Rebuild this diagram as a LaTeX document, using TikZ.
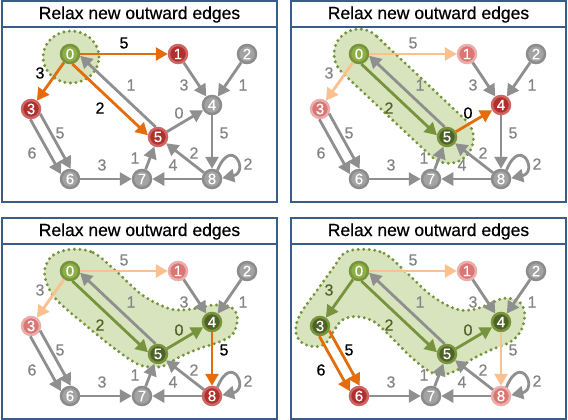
\documentclass[tikz,border=0pt]{standalone}
\usepackage{fontspec}
\setmainfont{Liberation Sans}[FakeBold=0.5]
\usetikzlibrary{arrows.meta}

\definecolor{frameblue}{HTML}{385D8A}
\definecolor{edgegray}{HTML}{8F8F8F}
\definecolor{labelgray}{HTML}{858585}
\definecolor{nodegray}{HTML}{A3A3A3}
\definecolor{nodegrayrim}{HTML}{8C8C8C}
\definecolor{hotorange}{HTML}{E46C0A}
\definecolor{paleorange}{HTML}{FAC090}
\definecolor{treegreen}{HTML}{77933C}
\definecolor{darkgreen}{HTML}{4F6228}
\definecolor{lightgreen}{HTML}{8DB045}
\definecolor{zonefill}{HTML}{D7E4BD}
\definecolor{redfill}{HTML}{B0302E}
\definecolor{redrim}{HTML}{CF6462}
\definecolor{pinkfill}{HTML}{DA7674}
\definecolor{pinkrim}{HTML}{EBAEAC}

\tikzset{
  rim/.style={draw=frameblue, line width=1.4pt},
  headline/.style={font=\fontsize{17.5}{18}\selectfont, inner sep=0pt},
  vtx/.style={circle, minimum size=18pt, inner sep=0pt, line width=2.5pt,
    draw=nodegrayrim, fill=nodegray, text=white, font=\fontsize{15}{15}\selectfont},
  vred/.style={draw=redrim, fill=redfill},
  vpink/.style={draw=pinkrim, fill=pinkfill},
  vstart/.style={draw=treegreen, fill=lightgreen},
  vdone/.style={draw=treegreen, fill=darkgreen},
  link/.style={line width=2.8pt, draw=edgegray, -{Triangle[length=12pt,width=13pt]}},
  ahot/.style={draw=hotorange},
  apale/.style={draw=paleorange},
  atree/.style={draw=treegreen},
  wt/.style={text=labelgray, font=\fontsize{16}{16}\selectfont, inner sep=0pt},
  whot/.style={text=black},
  wtree/.style={text=darkgreen},
  zone/.style={fill=zonefill, draw=treegreen, line width=3.3pt,
    dash pattern=on 0pt off 5.5pt, line cap=round},
  % per-panel hooks, plain by default
  v0/.style={}, v1/.style={}, v2/.style={}, v3/.style={}, v4/.style={},
  v5/.style={}, v6/.style={}, v7/.style={}, v8/.style={},
  e01/.style={}, e03/.style={}, e05/.style={}, e50/.style={}, e14/.style={},
  e24/.style={}, e54/.style={}, e48/.style={}, e85/.style={}, e87/.style={},
  e88/.style={}, e75/.style={}, e36a/.style={}, e36b/.style={}, e67/.style={},
  t01/.style={}, t03/.style={}, t05/.style={}, t50/.style={}, t14/.style={},
  t24/.style={}, t54/.style={}, t48/.style={}, t85/.style={}, t87/.style={},
  t88/.style={}, t75/.style={}, t36a/.style={}, t36b/.style={}, t67/.style={},
}

% One panel: frame, title, the nine vertices, weighted edges
\newcommand\graphpanel[1]{%
  \draw[rim] (2,-1) rectangle (277,-202);
  \draw[rim, fill=white] (2,-1) rectangle (277,-27);
  \node[headline] (#1head) at (139.5,-14.5) {Relax new outward edges};
  \node[vtx,v0] (#1n0) at (70,-54) {0};
  \node[vtx,v1] (#1n1) at (178,-54) {1};
  \node[vtx,v2] (#1n2) at (247,-54) {2};
  \node[vtx,v3] (#1n3) at (31,-109) {3};
  \node[vtx,v4] (#1n4) at (212,-105) {4};
  \node[vtx,v5] (#1n5) at (158,-137) {5};
  \node[vtx,v6] (#1n6) at (70,-179) {6};
  \node[vtx,v7] (#1n7) at (142,-179) {7};
  \node[vtx,v8] (#1n8) at (212,-179) {8};
  \draw[link,e01] (#1n0) -- (#1n1);
  \draw[link,e03] (#1n0) -- (#1n3);
  \draw[link,e05] (#1n0.-77) -- (#1n5.170);
  \draw[link,e50] (#1n5.103) -- (#1n0.-10);
  \draw[link,e14] (#1n1) -- (#1n4);
  \draw[link,e24] (#1n2) -- (#1n4);
  \draw[link,e54] (#1n5) -- (#1n4);
  \draw[link,e48] (#1n4) -- (#1n8);
  \draw[link,e85] (#1n8) -- (#1n5);
  \draw[link,e87] (#1n8) -- (#1n7);
  \draw[link,e88] (#1n8.58) .. controls +(68:38) and +(12:28) .. (#1n8.5);
  \draw[link,e75] (#1n7) -- (#1n5);
  \draw[link,e36a] (#1n3.-27) -- (#1n6.86);
  \draw[link,e36b] (#1n3.-94) -- (#1n6.152);
  \draw[link,e67] (#1n6) -- (#1n7);
  \node[wt,t01] (#1w01) at (124,-43) {5};
  \node[wt,t03] (#1w03) at (40,-73) {3};
  \node[wt,t05] (#1w05) at (100,-108) {2};
  \node[wt,t50] (#1w50) at (131,-85) {1};
  \node[wt,t14] (#1w14) at (184,-85) {3};
  \node[wt,t24] (#1w24) at (243,-85) {1};
  \node[wt,t54] (#1w54) at (179,-113) {0};
  \node[wt,t48] (#1w48) at (224,-133) {5};
  \node[wt,t85] (#1w85) at (194,-153) {2};
  \node[wt,t87] (#1w87) at (173,-165) {4};
  \node[wt,t88] (#1w88) at (248,-164) {2};
  \node[wt,t75] (#1w75) at (135,-158) {1};
  \node[wt,t36a] (#1w36a) at (60,-133) {5};
  \node[wt,t36b] (#1w36b) at (32,-153) {6};
  \node[wt,t67] (#1w67) at (102,-165) {3};
}

\begin{document}
\begin{tikzpicture}[x=1pt,y=1pt]
\useasboundingbox (0,0) rectangle (568,-420);
\fill[white] (0,0) rectangle (568,-420);

% step 1: source vertex 0 settled
\begin{scope}[v0/.style=vstart, v1/.style=vred, v3/.style=vred, v5/.style=vred,
  e01/.style=ahot, e03/.style=ahot, e05/.style=ahot,
  t01/.style=whot, t03/.style=whot, t05/.style=whot]
  \path[zone] (71,-57) ellipse [x radius=28, y radius=26];
  \graphpanel{a}
\end{scope}

% step 2: vertex 5 joins the tree
\begin{scope}[shift={(289,0)},
  v0/.style=vstart, v5/.style=vdone, v4/.style=vred, v1/.style=vpink, v3/.style=vpink,
  e01/.style=apale, e03/.style=apale, e05/.style=atree, t05/.style=wtree,
  e54/.style=ahot, t54/.style=whot]
  \begin{scope}[shift={(70,-54)}, rotate=-43.3]
    \path[zone] (0,25) arc[start angle=90, end angle=270, radius=25]
      -- (123,-25) arc[start angle=-90, end angle=90, radius=25] -- cycle;
  \end{scope}
  \graphpanel{b}
\end{scope}

% step 3: vertex 4 joins the tree
\begin{scope}[shift={(0,-217)},
  v0/.style=vstart, v5/.style=vdone, v4/.style=vdone, v8/.style=vred,
  v1/.style=vpink, v3/.style=vpink,
  e01/.style=apale, e03/.style=apale, e05/.style=atree, e54/.style=atree,
  t05/.style=wtree, t54/.style=wtree, e48/.style=ahot, t48/.style=whot]
  \path[zone] plot[smooth cycle, tension=0.6] coordinates {
    (71.7,-32.3) (93.3,-35.7) (116.7,-54.7) (140,-76.3) (160,-88) (176.7,-93)
    (196.7,-91.3) (213.3,-88) (230,-89.7) (237.3,-99.7) (233.3,-116.3)
    (220,-124.7) (200,-131.3) (180,-139.7) (163.3,-149) (146.7,-149.7)
    (133.3,-144.7) (110,-128) (83.3,-106.3) (56.7,-83) (46.7,-66.3)
    (45,-51.3) (53.3,-38)};
  \graphpanel{c}
\end{scope}

% step 4: vertex 3 joins the tree
\begin{scope}[shift={(289,-217)},
  v0/.style=vstart, v3/.style=vdone, v5/.style=vdone, v4/.style=vdone,
  v6/.style=vred, v1/.style=vpink, v8/.style=vpink,
  e01/.style=apale, e48/.style=apale,
  e03/.style=atree, e05/.style=atree, e54/.style=atree,
  t03/.style=wtree, t05/.style=wtree, t54/.style=wtree,
  e36a/.style=ahot, e36b/.style=ahot, t36a/.style=whot, t36b/.style=whot]
  \path[zone] plot[smooth cycle, tension=0.6] coordinates {
    (71.7,-32.3) (95,-36.3) (118.3,-56.3) (141.7,-78) (165,-91.3) (181.7,-93)
    (198.3,-88) (215,-81.3) (230,-84.7) (235.7,-96.3) (232.3,-113)
    (221.7,-124.7) (201.7,-133) (181.7,-143) (168.3,-153) (151.7,-158)
    (138.3,-153) (121.7,-139.7) (101.7,-119.7) (85,-104.7) (68.3,-99.7)
    (53.3,-103) (43.3,-116.3) (36.7,-126.3) (25,-129.7) (11.7,-124.7)
    (6.7,-113) (11.7,-96.3) (28.3,-73) (45,-49.7) (55,-36.3)};
  \graphpanel{d}
\end{scope}
\end{tikzpicture}
\end{document}
